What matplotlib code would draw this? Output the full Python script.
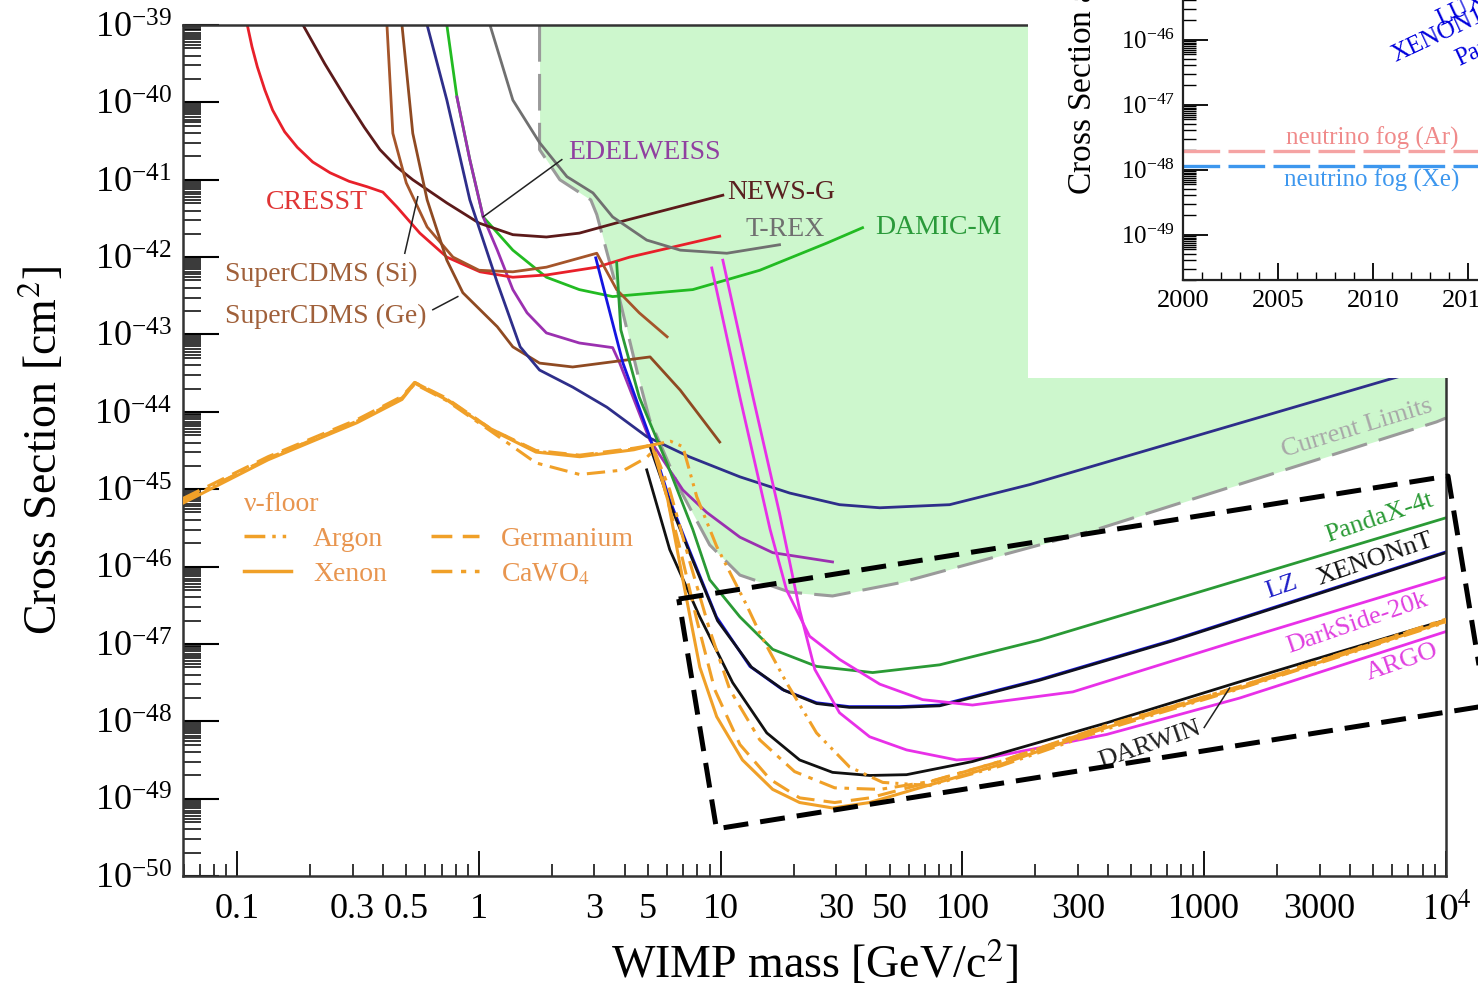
import numpy as np
import matplotlib
matplotlib.use("Agg")
import matplotlib.pyplot as plt
from matplotlib.lines import Line2D
from matplotlib.patches import Rectangle
from matplotlib.ticker import FixedLocator, LogLocator, NullFormatter

plt.rcParams['font.family'] = 'serif'
plt.rcParams['font.serif'] = ['Liberation Serif', 'DejaVu Serif']
plt.rcParams['mathtext.fontset'] = 'stix'

# ---- data: WIMP mass [GeV], log10(cross section [cm^2]) ----
cresst_m = [0.110, 0.115, 0.121, 0.130, 0.140, 0.157, 0.177, 0.205, 0.242, 0.290, 0.344, 0.400, 0.457, 0.569, 0.736, 1.01, 1.38, 1.91, 3.07, 4.2, 9.9]
cresst_s = [-39.0, -39.28, -39.54, -39.84, -40.10, -40.38, -40.58, -40.77, -40.91, -41.02, -41.09, -41.16, -41.35, -41.69, -42.00, -42.19, -42.26, -42.23, -42.13, -42.00, -41.73]

newsg_m = [0.187, 0.230, 0.284, 0.335, 0.389, 0.455, 0.532, 0.736, 1.0, 1.38, 1.9, 2.6, 4.1, 10.2]
newsg_s = [-39.0, -39.50, -39.97, -40.32, -40.61, -40.83, -41.0, -41.30, -41.56, -41.71, -41.74, -41.69, -41.52, -41.20]

cdms_si_m = [0.416, 0.44, 0.50, 0.61, 0.78, 1.0, 1.38, 1.9, 3.07, 3.71, 4.6, 6.0]
cdms_si_s = [-39.0, -40.40, -41.04, -41.61, -42.0, -42.17, -42.19, -42.13, -41.95, -42.42, -42.72, -43.03]

cdms_ge_m = [0.48, 0.532, 0.61, 0.736, 0.857, 1.19, 1.38, 1.78, 2.44, 5.1, 6.8, 9.9]
cdms_ge_s = [-39.0, -40.40, -41.26, -42.04, -42.46, -42.90, -43.16, -43.37, -43.42, -43.29, -43.72, -44.39]

cdex_m = [0.61, 0.736, 0.916, 1.19, 1.48, 1.78, 2.44, 3.38, 4.94, 7.4, 12.0, 19.3, 31, 45.5, 88.5, 190, 5680, 1e4]
cdex_s = [-39.0, -39.97, -41.26, -42.33, -43.16, -43.46, -43.68, -43.94, -44.32, -44.58, -44.84, -45.05,
          -45.20, -45.24, -45.20, -44.94, -43.59, -43.37]

damic_m = [0.736, 0.81, 0.916, 1.04, 1.38, 1.9, 2.6, 3.57, 7.66, 14.5, 27.4, 38.6]
damic_s = [-39.0, -39.93, -40.74, -41.48, -41.91, -42.26, -42.42, -42.51, -42.42, -42.17, -41.82, -41.62]

edel_m = [0.81, 0.916, 1.04, 1.19, 1.38, 1.58, 1.9, 2.6, 3.57, 3.82, 5.08, 6.97, 8.75, 12.0, 16.4, 29]
edel_s = [-39.93, -40.74, -41.48, -41.91, -42.42, -42.72, -42.98, -43.11, -43.17, -43.37, -44.36, -45.01,
          -45.30, -45.62, -45.82, -45.94]

trex_m = [1.11, 1.38, 1.78, 2.31, 2.96, 3.57, 4.94, 6.8, 10.6, 17.5]
trex_s = [-39.0, -39.97, -40.52, -40.96, -41.17, -41.48, -41.78, -41.91, -41.95, -41.84]

limits_m = [1.78, 1.78, 2.16, 2.9, 3.07, 3.82, 4.6, 5.08, 6.8, 9.0, 12.0, 19.3, 29, 55, 359, 9140, 1e4]
limits_s = [-39.0, -40.61, -41.0, -41.26, -41.45, -42.55, -43.59, -44.10, -45.01, -45.72, -46.11, -46.33,
            -46.38, -46.21, -45.52, -44.13, -44.08]

lz_m = [3.04, 3.94, 5.08, 6.15, 7.4, 9.6, 13.2, 18.0, 24.9, 34, 55, 80.5, 208, 740, 1e4]
lz_s = [-42.01, -43.37, -44.32, -45.14, -45.78, -46.65, -47.29, -47.59, -47.76, -47.81, -47.81, -47.79,
        -47.46, -46.95, -45.81]

xnt_m = [5.1, 6.2, 7.5, 9.7, 13.4, 18.3, 24.9, 34, 55, 80.5, 208, 740, 1e4]
xnt_s = [-44.45, -45.21, -45.85, -46.70, -47.30, -47.60, -47.77, -47.82, -47.82, -47.80, -47.47, -46.96, -45.82]

pandax_m = [3.71, 3.86, 4.6, 5.98, 7.66, 9.0, 12.0, 16.4, 24.9, 42.5, 80.5, 208, 1e4]
pandax_s = [-42.07, -42.94, -43.81, -44.66, -45.52, -46.17, -46.65, -47.07, -47.29, -47.37, -47.27, -46.95, -45.37]

ds20k_m = [9.18, 12.0, 16.0, 18.7, 23.3, 31, 45.5, 68.4, 110, 286, 1400, 1e4]
ds20k_s = [-42.14, -43.81, -45.52, -46.30, -46.90, -47.20, -47.52, -47.72, -47.79, -47.62, -46.95, -46.14]

argo_m = [10.2, 13.6, 17.5, 21.2, 24.5, 31, 41.3, 58.7, 94.6, 129, 395, 1400, 1e4]
argo_s = [-42.04, -43.81, -45.31, -46.56, -47.33, -47.89, -48.20, -48.37, -48.50, -48.47, -48.17, -47.70, -46.84]

darwin_m = [4.94, 6.15, 8.19, 11.2, 15.5, 21.2, 29, 41.3, 58.7, 110, 395, 1400, 1e4]
darwin_s = [-44.75, -45.78, -46.65, -47.50, -48.15, -48.50, -48.66, -48.70, -48.69, -48.52, -48.02, -47.49, -46.69]

# neutrino floors
xe_m = [0.0596, 0.134, 0.313, 0.48, 0.542, 0.73, 1.12, 1.72, 2.61, 4.37, 5.19,
        6.04, 6.97, 8.19, 9.62, 12.3, 16.4, 21.2, 29, 41.3, 66.5, 143, 395, 1400, 1e4]
xe_s = [-45.18, -44.62, -44.14, -43.84, -43.63, -43.84, -44.23, -44.52, -44.58, -44.49, -44.43,
        -45.14, -46.17, -47.30, -47.94, -48.50, -48.88, -49.05, -49.12, -49.05, -48.86, -48.56, -48.08, -47.57, -46.71]

ge_m = [0.0596, 0.134, 0.313, 0.48, 0.542, 0.73, 1.12, 1.72, 2.61, 4.37, 5.19,
        5.6, 6.8, 7.96, 9.44, 12.0, 16.0, 21.2, 29.6, 41.3, 66.5, 143, 395, 1400, 1e4]
ge_s = [-45.12, -44.58, -44.10, -43.80, -43.62, -43.82, -44.22, -44.50, -44.56, -44.47, -44.43,
        -44.75, -45.78, -46.69, -47.59, -48.30, -48.75, -48.99, -49.05, -48.99, -48.82, -48.52, -48.06, -47.55, -46.69]

cawo_m = [0.0596, 0.134, 0.313, 0.48, 0.542, 0.73, 1.12, 1.72, 2.61, 4.0, 4.94, 5.3,
          6.15, 7.4, 9.0, 10.9, 14.5, 20.2, 29.6, 45.5, 73, 143, 395, 1400, 1e4]
cawo_s = [-45.15, -44.60, -44.12, -43.82, -43.64, -43.85, -44.25, -44.66, -44.81, -44.75, -44.59, -44.49,
          -45.01, -45.91, -46.82, -47.59, -48.24, -48.65, -48.86, -48.88, -48.78, -48.52, -48.05, -47.55, -46.68]

ar_m = [0.0596, 0.134, 0.313, 0.48, 0.542, 0.73, 1.12, 1.72, 2.61, 4.37, 5.19, 6.2, 6.97,
        7.96, 9.62, 12.8, 14.5, 18.7, 24.9, 34.1, 46.8, 73, 143, 395, 1400, 1e4]
ar_s = [-45.16, -44.60, -44.12, -43.82, -43.62, -43.83, -44.22, -44.51, -44.57, -44.48, -44.43, -44.38, -44.45,
        -45.10, -45.74, -46.50, -46.86, -47.50, -48.15, -48.59, -48.79, -48.83, -48.58, -48.10, -47.58, -46.72]

# dashed box (corners in mass / log sigma)
box_m = [6.7, 1.02e4, 1.46e4, 9.6, 6.7]
box_s = [-46.42, -44.83, -47.80, -49.39, -46.42]

# inset: history plot
fog_years = [2000, 2030]
fog_ar = 10 ** -47.71
fog_xe = 10 ** -47.94

xtick_major = [0.1, 1, 10, 100, 1000, 1e4]
xtick_major_lab = ['0.1', '1', '10', '100', '1000', r'$10^4$']
xtick_minor_lab = {0.3: '0.3', 0.5: '0.5', 3: '3', 5: '5', 30: '30', 50: '50', 300: '300', 3000: '3000'}

orange = '#f0a028'
orange_txt = '#e8954f'

fig = plt.figure(figsize=(14.78, 9.93), dpi=100)
ax = fig.add_axes([0.1238, 0.1178, 0.8545, 0.857])
ax.set_xscale('log')
ax.set_yscale('log')
ax.set_xlim(0.0596, 1e4)
ax.set_ylim(1e-50, 1e-39)

def P(m, s):
    return np.array(m), 10 ** np.array(s)

# current limits region
lm, ls = P(limits_m, limits_s)
ax.fill_between(lm, ls, 1e-39, color='#cdf7cd', lw=0, zorder=0)
ax.plot(lm, ls, color='#9a9a9a', lw=2.2, dashes=(12, 4), zorder=1)

lw = 2.0
curves = [
    (damic_m, damic_s, '#22bb22'),
    (edel_m, edel_s, '#9b30b0'),
    (cresst_m, cresst_s, '#e8202a'),
    (newsg_m, newsg_s, '#5c1a1a'),
    (cdms_si_m, cdms_si_s, '#a5552a'),
    (cdms_ge_m, cdms_ge_s, '#8f4a22'),
    (cdex_m, cdex_s, '#2e2e8a'),
    (trex_m, trex_s, '#707070'),
    (pandax_m, pandax_s, '#2a9a35'),
    (lz_m, lz_s, '#1515e0'),
    (xnt_m, xnt_s, '#101020'),
    (ds20k_m, ds20k_s, '#e830e8'),
    (argo_m, argo_s, '#e830e8'),
    (darwin_m, darwin_s, '#111111'),
]
for m, s, c in curves:
    x, y = P(m, s)
    ax.plot(x, y, color=c, lw=lw, zorder=2)

# neutrino floors
floor_styles = {
    'Argon': (ar_m, ar_s, (6, 2, 1, 2, 1, 2)),
    'Xenon': (xe_m, xe_s, None),
    'Germanium': (ge_m, ge_s, (6, 3)),
    'CaWO$_4$': (cawo_m, cawo_s, (6, 2.5, 1.5, 2.5)),
}
handles = []
for name, (m, s, d) in floor_styles.items():
    x, y = P(m, s)
    if d is None:
        ax.plot(x, y, color=orange, lw=2.2, zorder=3)
        handles.append(Line2D([], [], color=orange, lw=2.5))
    else:
        ax.plot(x, y, color=orange, lw=2.2, dashes=d, zorder=3)
        handles.append(Line2D([], [], color=orange, lw=2.5, dashes=d))

leg = ax.legend(handles, list(floor_styles.keys()), ncol=2, title='ν-floor', loc='upper left',
                bbox_to_anchor=(0.037, 0.468), frameon=False, fontsize=20, title_fontsize=20,
                handlelength=1.7, columnspacing=1.6, alignment='left', labelcolor=orange_txt,
                borderpad=0, labelspacing=0.35)
leg.get_title().set_color(orange_txt)

# dashed box
bx, by = P(box_m, box_s)
ax.plot(bx, by, color='black', lw=3.6, dashes=(5, 2.4), clip_on=False, zorder=5)

# labels
fs = 20
ax.text(0.213, 10 ** -41.30, 'CRESST', color='#e03535', fontsize=fs, ha='center', va='center')
ax.text(0.089, 10 ** -42.22, 'SuperCDMS (Si)', color='#a0603a', fontsize=fs, ha='left', va='center')
ax.text(0.089, 10 ** -42.77, 'SuperCDMS (Ge)', color='#a0603a', fontsize=fs, ha='left', va='center')
ax.text(2.33, 10 ** -40.65, 'EDELWEISS', color='#9040a0', fontsize=fs, ha='left', va='center')
ax.text(10.6, 10 ** -41.16, 'NEWS-G', color='#5a2020', fontsize=fs, ha='left', va='center')
ax.text(12.6, 10 ** -41.64, 'T-REX', color='#707070', fontsize=fs, ha='left', va='center')
ax.text(43.4, 10 ** -41.62, 'DAMIC-M', color='#2a9a3a', fontsize=fs, ha='left', va='center')
ax.text(4300, 10 ** -44.21, 'Current Limits', color='#a8a8a8', fontsize=19, ha='center', va='center', rotation=17)
ax.text(5310, 10 ** -45.37, 'PandaX-4t', color='#2a9a35', fontsize=19, ha='center', va='center', rotation=19)
ax.text(5070, 10 ** -45.91, 'XENONnT', color='#111111', fontsize=19, ha='center', va='center', rotation=19)
ax.text(2090, 10 ** -46.27, 'LZ', color='#2020c8', fontsize=19, ha='center', va='center', rotation=19)
ax.text(4300, 10 ** -46.73, 'DarkSide-20k', color='#e040e0', fontsize=19, ha='center', va='center', rotation=19)
ax.text(6610, 10 ** -47.24, 'ARGO', color='#e040e0', fontsize=19, ha='center', va='center', rotation=19)
ax.text(594, 10 ** -48.30, 'DARWIN', color='#202020', fontsize=19, ha='center', va='center', rotation=19)

# leader lines
for (m0, s0), (m1, s1) in [((0.493, -41.95), (0.558, -41.22)),
                           ((0.644, -42.68), (0.817, -42.51)),
                           ((2.20, -40.74), (1.04, -41.48)),
                           ((1000, -48.08), (1273, -47.57))]:
    ax.plot([m0, m1], [10 ** s0, 10 ** s1], color='#222222', lw=1.1, zorder=4)

# ticks
ax.xaxis.set_major_locator(FixedLocator(xtick_major))
ax.set_xticklabels(xtick_major_lab)
minor_x = [k * 10.0 ** e for e in range(-2, 4) for k in range(2, 10) if 0.0596 <= k * 10.0 ** e <= 1e4]
ax.set_xticks(minor_x, minor=True)
ax.set_xticklabels([xtick_minor_lab.get(round(v, 6), '') for v in minor_x], minor=True)
ax.yaxis.set_major_locator(LogLocator(base=10, numticks=30))
ax.yaxis.set_minor_locator(LogLocator(base=10, subs=list(range(2, 10)) + [5.5, 6.5, 7.5, 8.5, 9.5], numticks=30))
ax.yaxis.set_minor_formatter(NullFormatter())
ax.tick_params(axis='y', which='major', direction='in', length=26, width=1.5, labelsize=26, pad=8)
ax.tick_params(axis='y', which='minor', direction='in', length=13, width=1.1)
ax.tick_params(axis='x', which='major', direction='in', length=18, width=1.3, labelsize=26, pad=12)
ax.tick_params(axis='x', which='minor', direction='in', length=9, width=1.1, labelsize=26, pad=12)
for sp in ax.spines.values():
    sp.set_linewidth(1.8)
    sp.set_color('#333333')

ax.set_xlabel('WIMP mass [GeV/c$^2$]', fontsize=33)
ax.set_ylabel('Cross Section [cm$^2$]', fontsize=33)
ax.xaxis.set_label_coords(0.5, -0.075)
ax.yaxis.set_label_coords(-0.092, 0.5)

# ---- inset ----
fig.add_artist(Rectangle((0.6955, 0.6193), 0.35, 0.4, transform=fig.transFigure,
                         facecolor='white', edgecolor='none', zorder=1))
ax_in = fig.add_axes([0.8004, 0.718, 0.3214, 0.3927])
ax_in.set_zorder(2)
ax_in.set_yscale('log')
ax_in.set_xlim(2000, 2025)
ax_in.set_ylim(10 ** -49.7, 10 ** -43.7)
ax_in.plot(fog_years, [fog_ar, fog_ar], color='#f5a3a3', lw=2.4, dashes=(11, 2.5))
ax_in.plot(fog_years, [fog_xe, fog_xe], color='#3d97ee', lw=2.4, dashes=(11, 2.5))
ax_in.text(2009.95, 10 ** -47.52, 'neutrino fog (Ar)', color='#f08a8a', fontsize=18, ha='center', va='center')
ax_in.text(2009.95, 10 ** -48.17, 'neutrino fog (Xe)', color='#3d97ee', fontsize=18, ha='center', va='center')
ax_in.text(2013.16, 10 ** -45.86, 'LUX', color='#0000dd', fontsize=18, rotation=25, ha='left', va='bottom')
ax_in.text(2010.79, 10 ** -46.42, 'XENON1T', color='#0000dd', fontsize=18, rotation=25, ha='left', va='bottom')
ax_in.text(2014.16, 10 ** -46.48, 'PandaX-II', color='#0000dd', fontsize=18, rotation=25, ha='left', va='bottom')
ax_in.xaxis.set_major_locator(FixedLocator(range(2000, 2030, 5)))
ax_in.xaxis.set_minor_locator(FixedLocator(range(2000, 2026)))
ax_in.yaxis.set_major_locator(LogLocator(base=10, numticks=20))
ax_in.yaxis.set_minor_locator(LogLocator(base=10, subs=list(range(2, 10)) + [6.5, 7.5, 8.5, 9.5], numticks=20))
ax_in.yaxis.set_minor_formatter(NullFormatter())
ax_in.tick_params(axis='y', which='major', direction='in', length=18, width=1.3, labelsize=18, pad=6)
ax_in.tick_params(axis='y', which='minor', direction='in', length=9, width=1.0)
ax_in.tick_params(axis='x', which='major', direction='in', length=12, width=1.3, labelsize=19, pad=7)
ax_in.tick_params(axis='x', which='minor', direction='in', length=6, width=1.0)
for sp in ax_in.spines.values():
    sp.set_linewidth(1.6)
    sp.set_color('#222222')
fig.text(1080 / 1478, 1 - 195 / 993, 'Cross Section at 100 GeV/c$^2$ [cm$^2$]', rotation=90,
         ha='center', va='bottom', fontsize=24, zorder=3)

fig.savefig('out.png', dpi=100)
